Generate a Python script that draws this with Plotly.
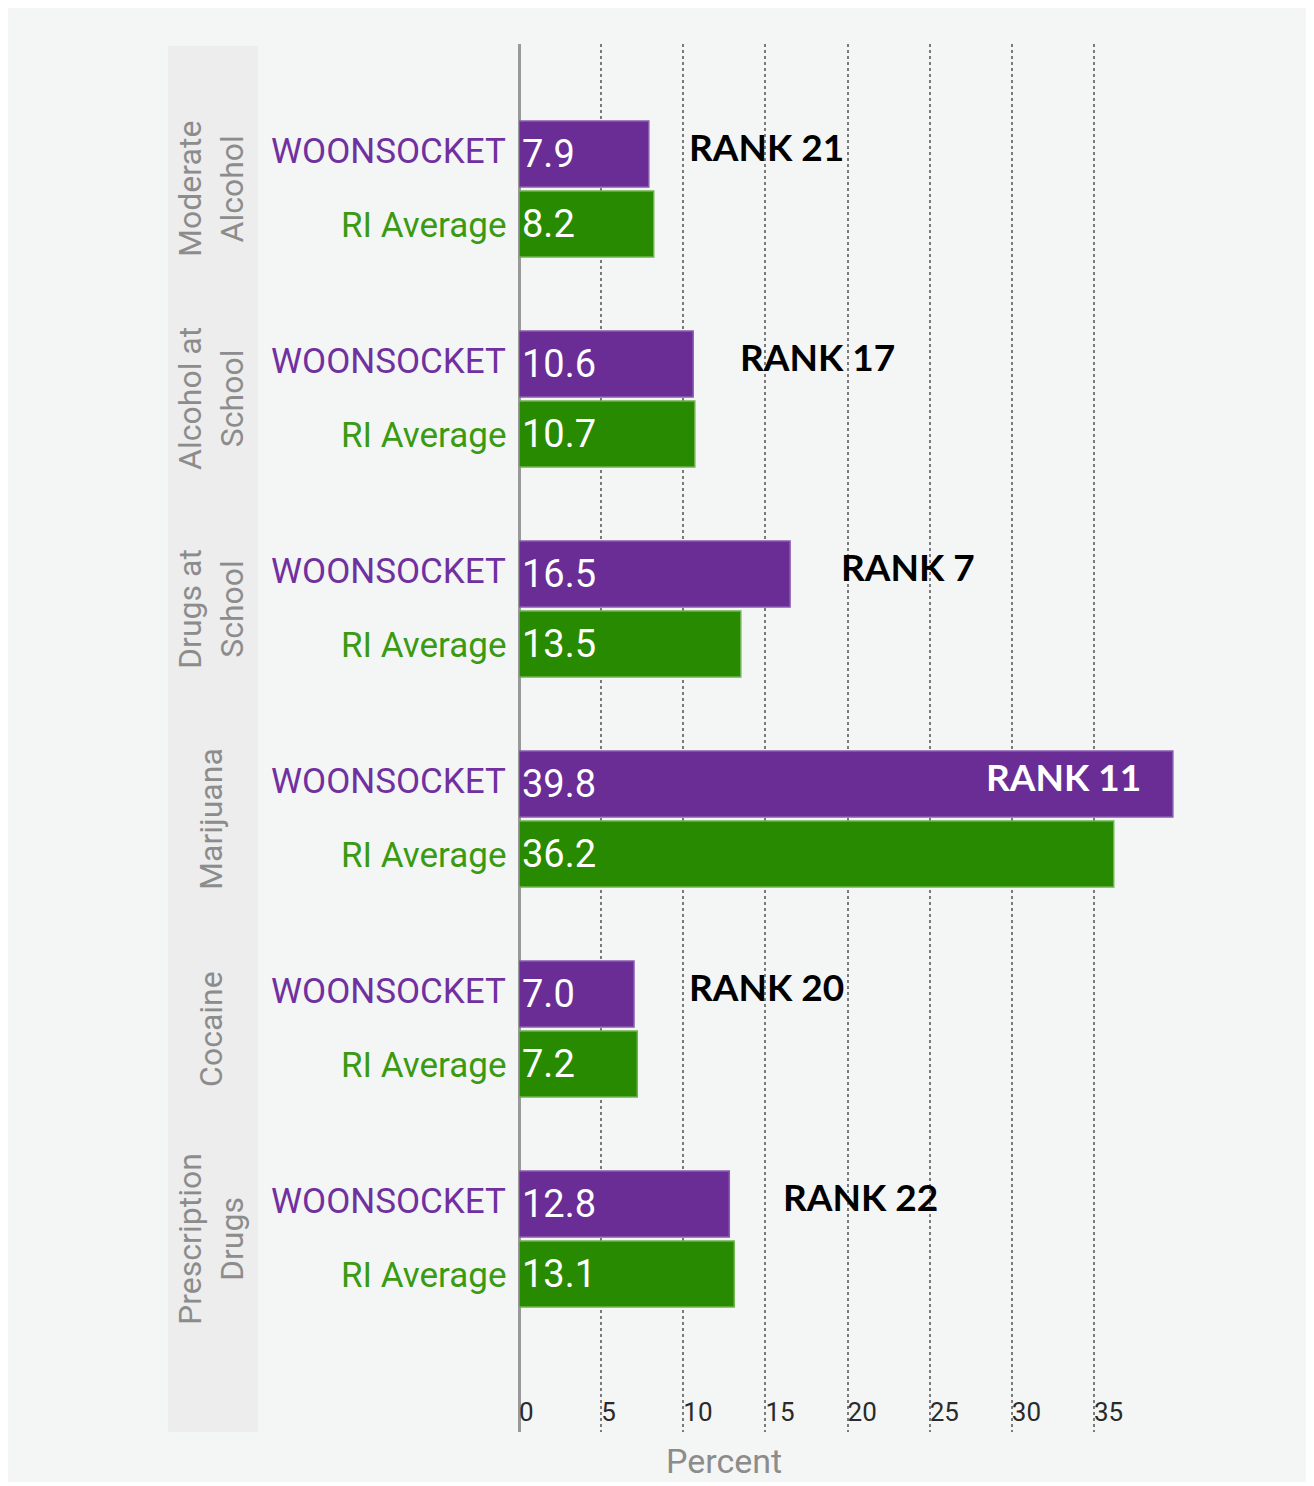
import plotly.graph_objects as go

categories = ["Moderate<br>Alcohol", "Alcohol at<br>School", "Drugs at<br>School",
              "Marijuana", "Cocaine", "Prescription<br>Drugs"]
woonsocket = [7.9, 10.6, 16.5, 39.8, 7.0, 12.8]
ri_average = [8.2, 10.7, 13.5, 36.2, 7.2, 13.1]
ranks = [21, 17, 7, 11, 20, 22]
x_ticks = [0, 5, 10, 15, 20, 25, 30, 35]

series_names = ["WOONSOCKET", "RI Average"]

# styling / placement
rank_x = [10.2, 13.35, 19.45, 38.0, 10.2, 15.95]
rank_anchor = ["left", "left", "left", "right", "left", "left"]
rank_color = ["black", "black", "black", "white", "black", "black"]

OFF = 8  # page body margin
W, H = 1314 - 2 * OFF, 1486 - OFF - 4
L, T = 519 - OFF, 44 - OFF
XMAX = 42
PW = 690
R = W - L - PW
B = H - (1432 - OFF)
PH = H - T - B

def px(x):
    return (x - OFF - L) / PW

def py(y):
    return 1 - (y - OFF - T) / PH

PURPLE = "#6a2d96"
GREEN = "#288a00"
NARROW = "Roboto, sans-serif"

fig = go.Figure()
fig.add_trace(go.Bar(
    y=categories, x=woonsocket, orientation="h", name=series_names[0],
    marker=dict(color=PURPLE, line=dict(color="#8a5bb0", width=1.5)),
    texttemplate="%{x:.1f}", textposition="inside", insidetextanchor="start",
    textfont=dict(color="white", size=38, family=NARROW),
))
fig.add_trace(go.Bar(
    y=categories, x=ri_average, orientation="h", name=series_names[1],
    marker=dict(color=GREEN, line=dict(color="#6fb24f", width=1.5)),
    texttemplate="%{x:.1f}", textposition="inside", insidetextanchor="start",
    textfont=dict(color="white", size=38, family=NARROW),
))

shapes = [
    dict(type="rect", xref="paper", yref="paper", x0=px(168), x1=px(258), y0=py(46), y1=py(1432),
         fillcolor="#ededed", line=dict(width=0), layer="below"),
]

annotations = []
for i, cat in enumerate(categories):
    annotations.append(dict(x=0, y=cat, xref="x", yref="y", text=series_names[0],
                            xanchor="right", yanchor="middle", xshift=-11, yshift=37,
                            showarrow=False, font=dict(size=35, color="#7030a0", family=NARROW)))
    annotations.append(dict(x=0, y=cat, xref="x", yref="y", text=series_names[1],
                            xanchor="right", yanchor="middle", xshift=-11, yshift=-37,
                            showarrow=False, font=dict(size=35, color="#3a9a12", family=NARROW)))
    annotations.append(dict(x=px(211), y=cat, xref="paper", yref="y", text=cat,
                            textangle=-90, xanchor="center", yanchor="middle",
                            showarrow=False, font=dict(size=32, color="#8c8c8c", family=NARROW)))
    annotations.append(dict(x=rank_x[i], y=cat, xref="x", yref="y", text=f"<b>RANK {ranks[i]}</b>",
                            xanchor=rank_anchor[i], yanchor="middle", yshift=42,
                            showarrow=False, font=dict(size=37, color=rank_color[i], family="Lato, Open Sans, sans-serif")))

annotations.append(dict(x=px(724), y=py(1461), xref="paper", yref="paper", text="Percent",
                        xanchor="center", yanchor="middle", showarrow=False,
                        font=dict(size=34, color="#8c8c8c", family=NARROW)))

fig.update_layout(
    width=W, height=H,
    margin=dict(l=L, r=R, t=T, b=B, pad=0),
    paper_bgcolor="#f4f5f5", plot_bgcolor="rgba(0,0,0,0)",
    barmode="group", bargap=0.3333, bargroupgap=0.057,
    showlegend=False,
    shapes=shapes, annotations=annotations,
    xaxis=dict(range=[0, XMAX], tickvals=x_ticks, ticktext=[str(v) for v in x_ticks],
               showgrid=True, gridcolor="#7a7a7a", gridwidth=2, griddash="dot",
               zeroline=True, zerolinecolor="#999999", zerolinewidth=3,
               showline=False, ticks="", ticklabelposition="inside right",
               tickfont=dict(size=26, color="#2a2a2a", family=NARROW)),
    yaxis=dict(type="category", range=[5.9195, -0.69], showticklabels=False,
               showgrid=False, zeroline=False, showline=False, ticks=""),
)

fig.write_html("out.html")
